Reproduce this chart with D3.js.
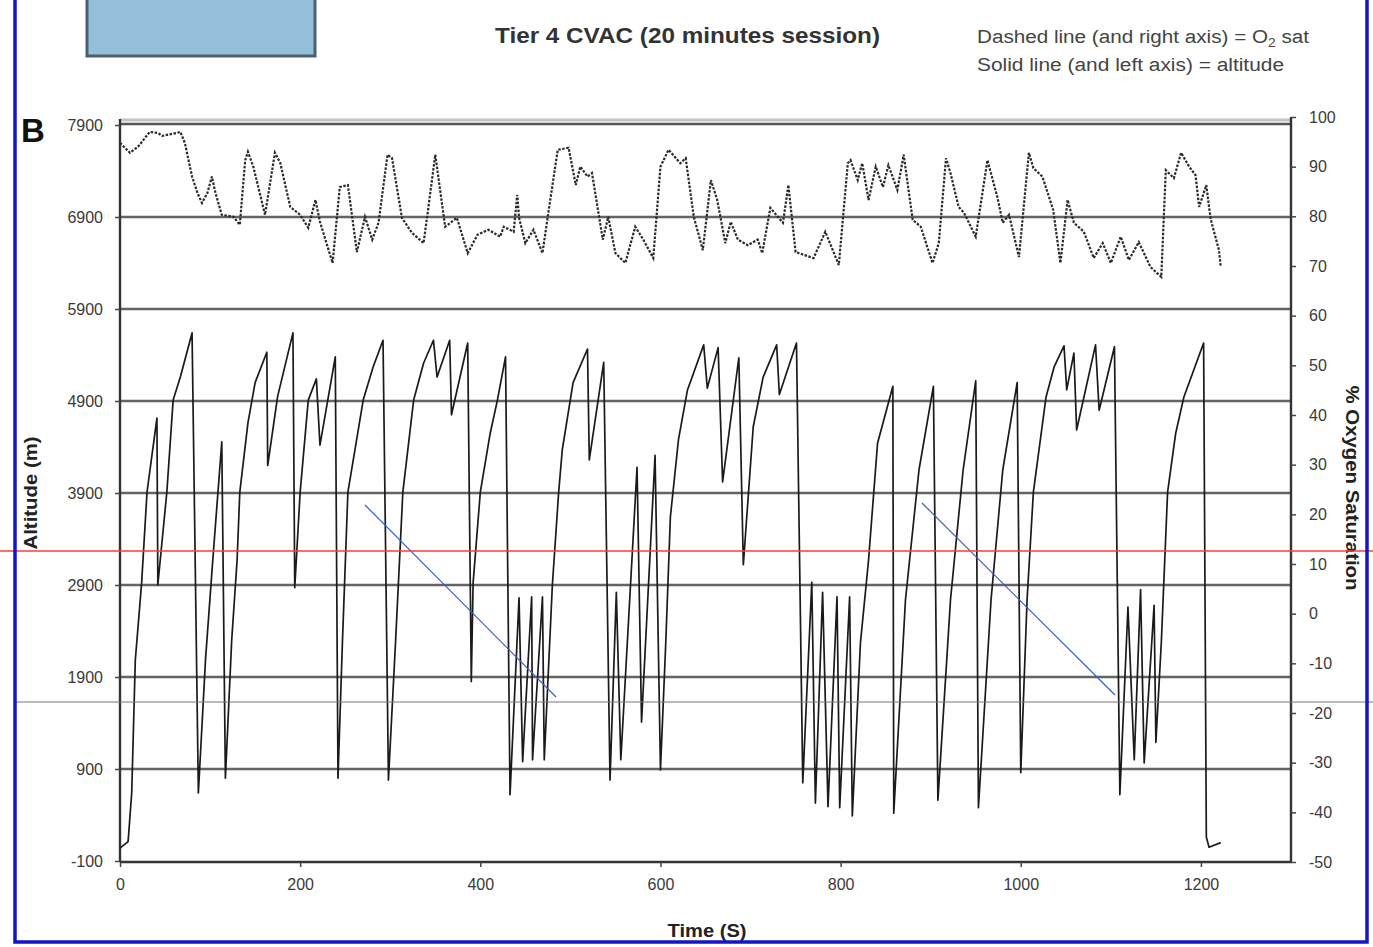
<!DOCTYPE html>
<html>
<head>
<meta charset="utf-8">
<script src="https://cdn.jsdelivr.net/npm/d3@7"></script>
<style>
  body { margin: 0; background: #fff; }
  svg text { font-family: Arial, "Liberation Sans", sans-serif; }
</style>
</head>
<body>
<svg id="chart" width="1373" height="947"></svg>
<script>
// ticks
var xTicks = [0, 200, 400, 600, 800, 1000, 1200];
var altTicks = [-100, 900, 1900, 2900, 3900, 4900, 5900, 6900, 7900];
var o2Ticks = [-50, -40, -30, -20, -10, 0, 10, 20, 30, 40, 50, 60, 70, 80, 90, 100];

// altitude (m) vs time (s), solid line
var altitude = [
  [0, 40], [9, 110], [13, 640], [17, 2085], [24, 2920], [30, 3910], [41, 4715],
  [42, 2900], [52, 3910], [59, 4910], [67, 5160], [80, 5640],
  [87, 640], [95, 2100], [103, 3170], [113, 4455],
  [117, 800], [124, 2300], [130, 3170], [133, 3910], [142, 4660], [150, 5100], [163, 5430],
  [164, 4200], [175, 4950], [192, 5640],
  [194, 2870], [200, 3910], [209, 4910], [218, 5140],
  [222, 4420], [239, 5380],
  [242, 800], [247, 2300], [253, 3910], [270, 4910], [281, 5270], [292, 5560],
  [298, 780], [306, 2300], [314, 3910], [326, 4910], [337, 5310], [348, 5560],
  [352, 5160], [366, 5560], [368, 4750], [386, 5530],
  [390, 1850], [392, 2920], [400, 3910], [411, 4550], [419, 4910], [428, 5380],
  [433, 620], [443, 2760], [447, 980], [457, 2770], [458, 1000], [469, 2770], [471, 1000],
  [480, 2900], [487, 3910], [491, 4370], [503, 5100], [519, 5465],
  [521, 4260], [537, 5320],
  [544, 780], [551, 2820], [556, 1000], [574, 4180], [579, 1410], [594, 4310],
  [600, 890], [606, 2300], [611, 3640], [620, 4480], [630, 5020], [648, 5510],
  [652, 5040], [664, 5480], [669, 4020], [687, 5370],
  [692, 3120], [703, 4620], [714, 5160], [729, 5510], [732, 4970], [751, 5530],
  [758, 750], [768, 2930], [772, 530], [780, 2820], [786, 490], [796, 2770],
  [799, 480], [810, 2770], [813, 390],
  [822, 2270], [831, 3170], [841, 4440], [858, 5060],
  [859, 420], [872, 2740], [887, 4150], [903, 5060],
  [908, 560], [922, 2740], [936, 4150], [950, 5120],
  [953, 480], [967, 2740], [980, 4150], [996, 5100],
  [1000, 860], [1007, 2740], [1014, 3910], [1028, 4940], [1037, 5270], [1048, 5500],
  [1051, 5020], [1059, 5420], [1062, 4585], [1083, 5510], [1087, 4800], [1104, 5490],
  [1110, 620], [1119, 2660], [1126, 1000], [1133, 2850], [1137, 965], [1148, 2680],
  [1150, 1190], [1156, 2270], [1163, 3910], [1172, 4550], [1181, 4940], [1203, 5530],
  [1206, 160], [1209, 50], [1222, 100]
];

// O2 saturation (%) vs time (s), dashed line
var oxygen = [
  [0, 94.8], [11, 92.8], [20, 94], [33, 97], [42, 96.8], [47, 96.2], [63, 96.8], [67, 97],
  [72, 94.8], [80, 88], [86, 84.7], [91, 82.7], [97, 84.7], [102, 88], [106, 84.7],
  [113, 80.3], [126, 79.9], [133, 78.3], [139, 91.3], [142, 93], [148, 90], [161, 80.3],
  [172, 92.8], [178, 90.7], [189, 81.9], [200, 80.3], [209, 77.7], [217, 83.3], [222, 78.9],
  [236, 70.6], [244, 85.9], [253, 86.3], [263, 72.8], [272, 79.9], [280, 75.3], [287, 78.7],
  [297, 92.4], [302, 91.7], [313, 79.7], [324, 76.7], [337, 74.6], [342, 81.3], [350, 92.4],
  [361, 77.9], [374, 79.7], [386, 72.6], [397, 76.3], [409, 77.3], [422, 75.9], [426, 77.9],
  [437, 76.9], [441, 84.3], [443, 79.7], [450, 74.6], [459, 77.3], [469, 72.6], [476, 81.3],
  [486, 93.4], [498, 93.8], [506, 86.3], [511, 90], [519, 88], [524, 88.7], [536, 75.3],
  [542, 79.9], [550, 72.6], [561, 70.6], [572, 77.9], [581, 75.3], [592, 71.6], [600, 90],
  [609, 93.4], [622, 90.7], [628, 91.7], [637, 79.9], [647, 73.2], [656, 87.3], [663, 83.3],
  [672, 74.6], [678, 78.9], [686, 75.3], [697, 74.2], [708, 75.3], [713, 72.6], [722, 81.7],
  [736, 78.7], [742, 86.3], [750, 72.8], [770, 71.6], [783, 76.9], [798, 70.2], [808, 90.7],
  [811, 91.3], [819, 87.3], [824, 90.7], [831, 83.3], [839, 90], [847, 85.9], [853, 90.3],
  [863, 85.3], [870, 92.4], [880, 79.3], [889, 77.9], [902, 70.6], [909, 74.6], [917, 91.7],
  [922, 88.7], [931, 81.9], [937, 80.7], [950, 75.9], [963, 91.3], [974, 83.9], [980, 78.7],
  [987, 80.3], [998, 71.8], [1009, 92.8], [1014, 89.7], [1024, 88], [1036, 81.3], [1044, 70.6],
  [1052, 83.3], [1059, 78.7], [1070, 76.9], [1081, 71.6], [1091, 74.6], [1100, 70.6],
  [1111, 75.9], [1120, 71.2], [1131, 74.8], [1144, 69.8], [1156, 67.8], [1161, 89.3],
  [1170, 87.7], [1178, 92.8], [1187, 90], [1194, 88.3], [1198, 81.9], [1206, 86.3],
  [1209, 81.9], [1211, 79.3], [1220, 73.2], [1222, 69.8]
];

var svg = d3.select("#chart");

var x = d3.scaleLinear().domain([0, 1300]).range([120, 1291]);
var yAlt = d3.scaleLinear().domain([-100, 7900]).range([861, 125]);
var yO2 = d3.scaleLinear().domain([-50, 100]).range([862, 117]);

// top-left shaded box (cut off at top)
svg.append("rect")
    .attr("x", 87).attr("y", -6).attr("width", 228).attr("height", 62)
    .attr("fill", "#95bedb").attr("stroke", "#4b6172").attr("stroke-width", 3);

// title + legend notes
svg.append("text").attr("x", 495).attr("y", 43)
    .attr("font-size", 22).attr("font-weight", "bold")
    .attr("textLength", 385).attr("lengthAdjust", "spacingAndGlyphs")
    .attr("fill", "#333").text("Tier 4 CVAC (20 minutes session)");

var note = svg.append("g").attr("font-size", 18).attr("fill", "#444");
var n1 = note.append("text").attr("x", 977).attr("y", 43)
    .attr("textLength", 332).attr("lengthAdjust", "spacingAndGlyphs");
n1.append("tspan").text("Dashed line (and right axis)  = O");
n1.append("tspan").attr("font-size", 12).attr("dy", 4).text("2");
n1.append("tspan").attr("dy", -4).text(" sat");
note.append("text").attr("x", 977).attr("y", 71)
    .attr("textLength", 307).attr("lengthAdjust", "spacingAndGlyphs")
    .text("Solid line (and left axis) = altitude");

svg.append("text").attr("x", 21).attr("y", 142)
    .attr("font-size", 33).attr("font-weight", "bold").attr("fill", "#111").text("B");

// gridlines
svg.append("g").selectAll("line")
    .data(altTicks.filter(function(d) { return d > -100 && d < 7900; }))
    .enter().append("line")
    .attr("x1", 120).attr("x2", 1291)
    .attr("y1", function(d) { return yAlt(d); })
    .attr("y2", function(d) { return yAlt(d); })
    .attr("stroke", "#4a4a4a").attr("stroke-width", 2.4).attr("opacity", 0.85);

// top frame line (double)
svg.append("line").attr("x1", 120).attr("x2", 1291)
    .attr("y1", yAlt(7900) - 5).attr("y2", yAlt(7900) - 5)
    .attr("stroke", "#c4c4c4").attr("stroke-width", 3);
svg.append("line").attr("x1", 120).attr("x2", 1291)
    .attr("y1", yAlt(7900) - 1).attr("y2", yAlt(7900) - 1)
    .attr("stroke", "#555").attr("stroke-width", 2.4);

// axes
var fmt = function(d) { return String(d); };
var axisL = svg.append("g").attr("transform", "translate(120,0)")
    .call(d3.axisLeft(yAlt).tickValues(altTicks).tickSize(5).tickPadding(12).tickFormat(fmt));
var axisR = svg.append("g").attr("transform", "translate(1291,0)")
    .call(d3.axisRight(yO2).tickValues(o2Ticks).tickSize(5).tickPadding(13).tickFormat(fmt));
var axisB = svg.append("g").attr("transform", "translate(0,862)")
    .call(d3.axisBottom(x).tickValues(xTicks).tickSize(5).tickPadding(12).tickFormat(fmt));

[axisL, axisR, axisB].forEach(function(a) {
    a.select(".domain").attr("stroke", "#333").attr("stroke-width", 2.4);
    a.selectAll(".tick line").attr("stroke", "#444").attr("stroke-width", 1.5);
    a.selectAll(".tick text").attr("font-size", 16).attr("fill", "#3a3a3a")
        .style("font-family", "Arial, 'Liberation Sans', sans-serif");
});
axisR.select(".domain").attr("d", "M0," + yO2(100) + "V" + yO2(-50));
axisB.select(".domain").attr("d", "M120,0H1291");
axisL.select(".domain").attr("d", "M0," + (yAlt(7900) - 6) + "V" + yAlt(-100));

// axis titles
svg.append("text").attr("transform", "translate(37,493) rotate(-90)")
    .attr("text-anchor", "middle").attr("font-size", 18).attr("font-weight", "bold")
    .attr("textLength", 113).attr("lengthAdjust", "spacingAndGlyphs")
    .attr("fill", "#222").text("Altitude (m)");
svg.append("text").attr("transform", "translate(1346,488) rotate(90)")
    .attr("text-anchor", "middle").attr("font-size", 18).attr("font-weight", "bold")
    .attr("textLength", 205).attr("lengthAdjust", "spacingAndGlyphs")
    .attr("fill", "#222").text("% Oxygen Saturation");
svg.append("text").attr("x", 707).attr("y", 937)
    .attr("text-anchor", "middle").attr("font-size", 18).attr("font-weight", "bold")
    .attr("textLength", 79).attr("lengthAdjust", "spacingAndGlyphs")
    .attr("fill", "#222").text("Time (S)");

// series
var lineAlt = d3.line()
    .x(function(d) { return x(d[0]); })
    .y(function(d) { return yAlt(d[1]); });
var lineO2 = d3.line()
    .x(function(d) { return x(d[0]); })
    .y(function(d) { return yO2(d[1]); });

svg.append("path").datum(oxygen)
    .attr("d", lineO2).attr("fill", "none")
    .attr("stroke", "#2a2a2a").attr("stroke-width", 2.2)
    .attr("stroke-dasharray", "2.5,1.5");

svg.append("path").datum(altitude)
    .attr("d", lineAlt).attr("fill", "none")
    .attr("stroke", "#1a1a1a").attr("stroke-width", 1.7)
    .attr("stroke-linejoin", "round");

// overlay annotation lines
svg.append("line").attr("x1", 365).attr("y1", 505).attr("x2", 556).attr("y2", 697)
    .attr("stroke", "#3a5cc4").attr("stroke-width", 1.2);
svg.append("line").attr("x1", 922).attr("y1", 503).attr("x2", 1115).attr("y2", 695)
    .attr("stroke", "#3a5cc4").attr("stroke-width", 1.2);
svg.append("line").attr("x1", 0).attr("x2", 1373).attr("y1", 551).attr("y2", 551)
    .attr("stroke", "#ff3b3b").attr("stroke-width", 1.3);
svg.append("line").attr("x1", 16).attr("x2", 1373).attr("y1", 702).attr("y2", 702)
    .attr("stroke", "#777").attr("stroke-width", 1);

// blue frame
svg.append("path")
    .attr("d", "M15,0V942H1367V0")
    .attr("fill", "none").attr("stroke", "#1414c8").attr("stroke-width", 3.5);
</script>
</body>
</html>
